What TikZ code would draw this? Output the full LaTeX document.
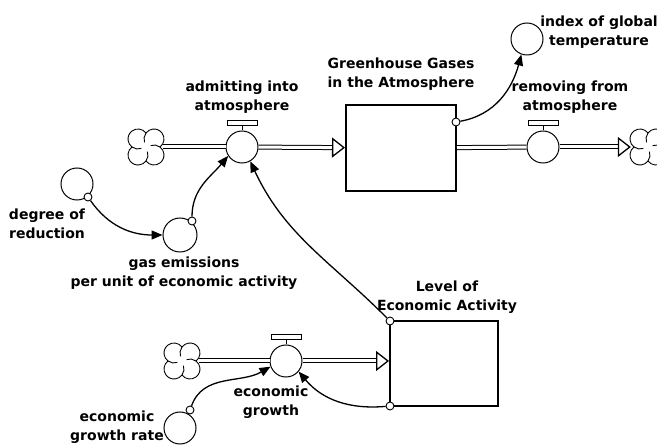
\documentclass[tikz,border=0pt]{standalone}
\usepackage{fontspec}
\setmainfont{DejaVu Sans}
\usetikzlibrary{arrows.meta,positioning}

\begin{document}
\begin{tikzpicture}[x=1pt,y=1pt,>=stealth,
    lbl/.style={align=center,inner sep=0pt,font=\fontsize{14}{19}\selectfont\bfseries},
    aux/.style={circle,draw,fill=white,line width=1pt,minimum size=32pt,inner sep=0pt},
    valve/.style={aux},
    bar/.style={draw,fill=white,line width=1pt,minimum width=30pt,minimum height=5pt,inner sep=0pt},
    stock/.style={draw,line width=2pt,inner sep=0pt},
    port/.style={circle,draw,fill=white,line width=0.9pt,minimum size=8pt,inner sep=0pt},
    puff/.style={circle,minimum size=34pt,inner sep=0pt},
    pics/cloudy/.style={code={
        \draw[fill=white,line width=0.9pt] (14,0) arc[start angle=-53,end angle=143,radius=10]
            arc[start angle=37,end angle=233,radius=10] arc[start angle=127,end angle=323,radius=10]
            arc[start angle=217,end angle=413,radius=10] -- cycle;
        \foreach \r in {0,90,180,270}
            \draw[line width=0.9pt,rotate=\r] (0,14) arc[start angle=143,end angle=200,radius=10];
    }},
    pipe/.style={double=white,double distance=3pt,line width=1pt,-{Triangle[open,length=13pt,width=20pt,line width=1.3pt]}},
    pipein/.style={double=white,double distance=3pt,line width=1pt},
    link/.style={line width=1.3pt,-{Triangle[length=11pt,width=9pt]}}]
    \useasboundingbox (0,0) rectangle (657,445);
    % greenhouse gases chain
    \node[puff] (c1) at (146,298) {};
    \pic at (c1) {cloudy};
    \node[valve] (v1) at (242,298) {};
    \node[bar,above=4pt of v1] (b1) {};
    \node[stock,minimum width=110pt,minimum height=86pt] (ghg) at (401,297) {};
    \node[valve] (v2) at (543,298) {};
    \node[bar,above=4pt of v2] (b2) {};
    \node[puff] (c2) at (648,298) {};
    \pic at (c2) {cloudy};
    \draw[line width=1pt] (v1) -- (b1);
    \draw[line width=1pt] (v2) -- (b2);
    \draw[pipein] (c1) -- (v1);
    \draw[pipe] (v1) -- (ghg);
    \draw[pipein] (ghg) -- (v2);
    \draw[pipe] (v2) -- (c2);
    \node[lbl] at (242,348) {admitting into\\atmosphere};
    \node[lbl] at (401,371) {Greenhouse Gases\\in the Atmosphere};
    \node[lbl] at (570,348) {removing from\\atmosphere};
    \node[aux] (idx) at (527,406) {};
    \node[lbl] at (599,413) {index of global\\temperature};
    % emissions
    \node[aux] (deg) at (77,261) {};
    \node[lbl] at (47,221) {degree of\\reduction};
    \node[aux,minimum size=34pt] (gas) at (180,210) {};
    \node[lbl] at (184,172) {gas emissions\\per unit of economic activity};
    % economic activity chain
    \node[puff] (c3) at (182,84) {};
    \pic at (c3) {cloudy};
    \node[valve] (v3) at (286,84) {};
    \node[bar,above=4pt of v3] (b3) {};
    \node[stock,minimum width=108pt,minimum height=85pt] (lev) at (444,81.5) {};
    \draw[line width=1pt] (v3) -- (b3);
    \draw[pipein] (c3) -- (v3);
    \draw[pipe] (v3) -- (lev.west|-v3);
    \node[lbl] at (447,148) {Level of\\Economic Activity};
    \node[lbl] at (271,43) {economic\\growth};
    \node[aux] (rate) at (180,17) {};
    \node[lbl] at (117,18) {economic\\growth rate};
    % ports
    \node[port] (pg) at (456,323) {};
    \node[port] (pd) at (88,248) {};
    \node[port] (pe) at (192,224) {};
    \node[port] (plt) at (390,124) {};
    \node[port] (plb) at (390,39) {};
    \node[port] (pr) at (190,35) {};
    % links
    \draw[link] (pg) to[out=10,in=-105] (idx.-110);
    \draw[link] (pd) to[out=-55,in=180] (gas.west);
    \draw[link] (pe) to[out=90,in=-130] (v1.213);
    \draw[link] (plt) to[out=135,in=-65] (v1.-60);
    \draw[link] (pr) to[out=70,in=210] (v3.200);
    \draw[link] (plb) to[out=185,in=-50] (v3.-40);
\end{tikzpicture}
\end{document}
